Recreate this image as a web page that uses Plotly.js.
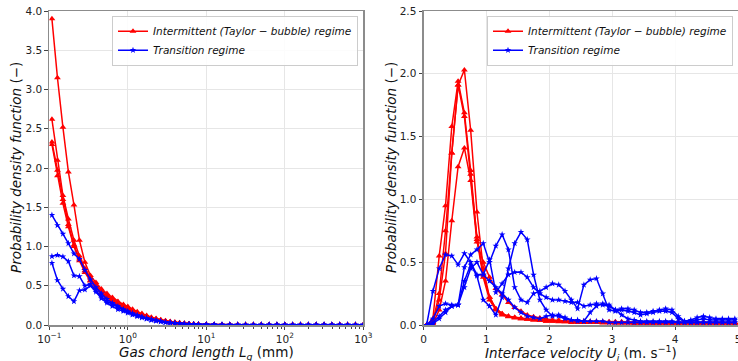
<!DOCTYPE html>
<html>
<head>
<meta charset="utf-8">
<script src="https://cdn.plot.ly/plotly-3.0.1.min.js"></script>
<style>html,body{margin:0;padding:0;background:#fff;}#chart{width:738px;height:361px;}</style>
</head>
<body>
<div id="chart"></div>
<script>
// ---------- Left panel: gas chord length (mm), log x ----------
const chordTickVals = [0.1, 1, 10, 100, 1000];
const chordTickText = ['10<sup>−1</sup>', '10<sup>0</sup>', '10<sup>1</sup>', '10<sup>2</sup>', '10<sup>3</sup>'];

const chordLength = [0.108, 0.127, 0.149, 0.175, 0.206, 0.242, 0.284, 0.334, 0.393, 0.461, 0.542, 0.637, 0.748, 0.879,
  1.0, 1.148, 1.318, 1.514, 1.738, 1.995, 2.291, 2.63, 3.02, 3.467, 3.981, 4.571, 5.248, 6.026, 6.918, 7.943,
  10, 12.59, 15.85, 19.95, 25.12, 31.62, 39.81, 50.12, 63.1, 79.43, 100, 125.9, 158.5, 199.5, 251.2, 316.2, 398.1, 501.2, 631, 794.3, 1000];

const chordInt1 = [3.90, 3.15, 2.52, 1.95, 1.53, 1.08, 0.80, 0.63, 0.54, 0.46, 0.40, 0.35, 0.30, 0.26,
  0.235, 0.20, 0.17, 0.145, 0.12, 0.10, 0.083, 0.068, 0.055, 0.044, 0.035, 0.028, 0.022, 0.017, 0.013, 0.010,
  0.007, 0.005, 0.004, 0.003, 0.003, 0.002, 0.002, 0.002, 0.002, 0.002, 0.002, 0.002, 0.002, 0.002, 0.002, 0.002, 0.002, 0.002, 0.002, 0.002, 0.002];
const chordInt2 = [2.62, 2.10, 1.65, 1.35, 1.08, 0.88, 0.72, 0.60, 0.51, 0.44, 0.38, 0.33, 0.29, 0.25,
  0.22, 0.19, 0.16, 0.135, 0.11, 0.09, 0.075, 0.06, 0.05, 0.04, 0.032, 0.025, 0.019, 0.015, 0.011, 0.008,
  0.006, 0.004, 0.003, 0.003, 0.002, 0.002, 0.002, 0.002, 0.002, 0.002, 0.002, 0.002, 0.002, 0.002, 0.002, 0.002, 0.002, 0.002, 0.002, 0.002, 0.002];
const chordInt3 = [2.33, 1.97, 1.60, 1.28, 1.02, 0.84, 0.69, 0.57, 0.48, 0.41, 0.36, 0.31, 0.27, 0.235,
  0.205, 0.175, 0.15, 0.125, 0.105, 0.085, 0.07, 0.056, 0.045, 0.036, 0.028, 0.022, 0.017, 0.013, 0.010, 0.007,
  0.005, 0.004, 0.003, 0.003, 0.002, 0.002, 0.002, 0.002, 0.002, 0.002, 0.002, 0.002, 0.002, 0.002, 0.002, 0.002, 0.002, 0.002, 0.002, 0.002, 0.002];
const chordInt4 = [2.30, 1.90, 1.55, 1.25, 1.00, 0.82, 0.67, 0.56, 0.47, 0.40, 0.35, 0.30, 0.26, 0.225,
  0.195, 0.17, 0.145, 0.12, 0.10, 0.082, 0.067, 0.054, 0.043, 0.034, 0.027, 0.021, 0.016, 0.012, 0.009, 0.007,
  0.005, 0.004, 0.003, 0.003, 0.002, 0.002, 0.002, 0.002, 0.002, 0.002, 0.002, 0.002, 0.002, 0.002, 0.002, 0.002, 0.002, 0.002, 0.002, 0.002, 0.002];
const chordTr1 = [1.40, 1.27, 1.16, 1.04, 0.91, 0.84, 0.70, 0.58, 0.48, 0.40, 0.33, 0.28, 0.24, 0.20,
  0.175, 0.15, 0.125, 0.105, 0.088, 0.072, 0.058, 0.047, 0.038, 0.030, 0.024, 0.019, 0.015, 0.011, 0.008, 0.006,
  0.005, 0.004, 0.003, 0.003, 0.002, 0.002, 0.002, 0.002, 0.002, 0.002, 0.002, 0.002, 0.002, 0.002, 0.002, 0.002, 0.002, 0.002, 0.002, 0.002, 0.002];
const chordTr2 = [0.875, 0.89, 0.87, 0.81, 0.63, 0.62, 0.50, 0.52, 0.44, 0.36, 0.30, 0.26, 0.22, 0.19,
  0.165, 0.14, 0.12, 0.10, 0.083, 0.068, 0.055, 0.045, 0.036, 0.029, 0.023, 0.018, 0.014, 0.011, 0.008, 0.006,
  0.005, 0.004, 0.003, 0.003, 0.002, 0.002, 0.002, 0.002, 0.002, 0.002, 0.002, 0.002, 0.002, 0.002, 0.002, 0.002, 0.002, 0.002, 0.002, 0.002, 0.002];
const chordTr3 = [0.79, 0.57, 0.46, 0.365, 0.30, 0.44, 0.45, 0.50, 0.42, 0.34, 0.28, 0.24, 0.20, 0.175,
  0.155, 0.13, 0.11, 0.092, 0.077, 0.063, 0.051, 0.041, 0.033, 0.026, 0.021, 0.016, 0.012, 0.009, 0.007, 0.005,
  0.004, 0.003, 0.003, 0.002, 0.002, 0.002, 0.002, 0.002, 0.002, 0.002, 0.002, 0.002, 0.002, 0.002, 0.002, 0.002, 0.002, 0.002, 0.002, 0.002, 0.002];

// ---------- Right panel: interface velocity (m/s) ----------
const velocity = [0.05, 0.15, 0.25, 0.35, 0.45, 0.55, 0.65, 0.75, 0.85, 0.95,
  1.05, 1.15, 1.25, 1.35, 1.45, 1.55, 1.65, 1.75, 1.85, 1.95,
  2.05, 2.15, 2.25, 2.35, 2.45, 2.55, 2.65, 2.75, 2.85, 2.95,
  3.05, 3.15, 3.25, 3.35, 3.45, 3.55, 3.65, 3.75, 3.85, 3.95,
  4.05, 4.15, 4.25, 4.35, 4.45, 4.55, 4.65, 4.75, 4.85, 4.95];

const velInt1 = [0.00, 0.02, 0.20, 0.57, 1.37, 1.91, 2.03, 1.55, 0.90, 0.45, 0.22, 0.13, 0.09, 0.07, 0.06, 0.05, 0.045, 0.04, 0.035, 0.03,
  0.03, 0.025, 0.025, 0.02, 0.02, 0.02, 0.02, 0.02, 0.015, 0.015, 0.015, 0.015, 0.015, 0.01, 0.01, 0.01, 0.01, 0.01, 0.01, 0.01,
  0.01, 0.01, 0.01, 0.01, 0.01, 0.01, 0.01, 0.01, 0.01, 0.01];
const velInt2 = [0.00, 0.05, 0.55, 0.95, 1.58, 1.94, 1.69, 1.23, 0.68, 0.38, 0.20, 0.12, 0.08, 0.065, 0.055, 0.05, 0.045, 0.04, 0.035, 0.03,
  0.03, 0.03, 0.025, 0.025, 0.02, 0.02, 0.02, 0.02, 0.02, 0.02, 0.015, 0.015, 0.015, 0.015, 0.015, 0.015, 0.015, 0.015, 0.015, 0.015,
  0.015, 0.015, 0.015, 0.015, 0.015, 0.015, 0.015, 0.015, 0.015, 0.015];
const velInt3 = [0.00, 0.01, 0.12, 0.35, 0.83, 1.26, 1.41, 1.15, 0.66, 0.50, 0.38, 0.29, 0.24, 0.18, 0.14, 0.11, 0.08, 0.065, 0.055, 0.045,
  0.04, 0.035, 0.03, 0.03, 0.025, 0.025, 0.025, 0.025, 0.02, 0.02, 0.02, 0.02, 0.02, 0.02, 0.02, 0.02, 0.02, 0.02, 0.02, 0.02,
  0.02, 0.02, 0.02, 0.02, 0.02, 0.02, 0.02, 0.02, 0.02, 0.02];
const velInt4 = [0.00, 0.03, 0.25, 0.75, 1.37, 1.91, 1.66, 1.20, 0.70, 0.40, 0.22, 0.13, 0.09, 0.07, 0.06, 0.055, 0.05, 0.045, 0.04, 0.04,
  0.035, 0.035, 0.03, 0.03, 0.03, 0.03, 0.025, 0.025, 0.025, 0.025, 0.025, 0.025, 0.02, 0.02, 0.02, 0.02, 0.02, 0.02, 0.02, 0.02,
  0.02, 0.02, 0.02, 0.02, 0.02, 0.02, 0.02, 0.02, 0.02, 0.02];
const velTr1 = [0.00, 0.27, 0.45, 0.56, 0.55, 0.48, 0.57, 0.50, 0.40, 0.40, 0.52, 0.26, 0.33, 0.40, 0.42, 0.42, 0.38, 0.30, 0.25, 0.22,
  0.20, 0.20, 0.19, 0.18, 0.18, 0.15, 0.16, 0.17, 0.16, 0.15, 0.12, 0.13, 0.13, 0.12, 0.10, 0.10, 0.11, 0.12, 0.13, 0.12,
  0.07, 0.03, 0.04, 0.06, 0.07, 0.06, 0.05, 0.05, 0.05, 0.05];
const velTr2 = [0.00, 0.05, 0.15, 0.17, 0.16, 0.16, 0.46, 0.56, 0.60, 0.65, 0.50, 0.63, 0.72, 0.60, 0.30, 0.20, 0.18, 0.25, 0.27, 0.30,
  0.33, 0.32, 0.27, 0.20, 0.13, 0.32, 0.36, 0.37, 0.25, 0.12, 0.11, 0.12, 0.11, 0.10, 0.08, 0.09, 0.10, 0.11, 0.11, 0.10,
  0.05, 0.03, 0.03, 0.04, 0.05, 0.04, 0.04, 0.04, 0.04, 0.04];
const velTr3 = [0.00, 0.02, 0.07, 0.12, 0.15, 0.16, 0.35, 0.48, 0.39, 0.20, 0.15, 0.08, 0.22, 0.45, 0.65, 0.74, 0.68, 0.40, 0.20, 0.12,
  0.07, 0.08, 0.06, 0.04, 0.03, 0.03, 0.10, 0.15, 0.17, 0.16, 0.12, 0.08, 0.05, 0.04, 0.03, 0.03, 0.03, 0.03, 0.03, 0.03,
  0.02, 0.02, 0.02, 0.02, 0.02, 0.02, 0.02, 0.02, 0.02, 0.02];
const velTr4 = [0.00, 0.01, 0.05, 0.10, 0.15, 0.16, 0.30, 0.45, 0.50, 0.40, 0.35, 0.30, 0.25, 0.20, 0.14, 0.10, 0.07, 0.06, 0.05, 0.07,
  0.08, 0.07, 0.05, 0.04, 0.04, 0.03, 0.03, 0.03, 0.03, 0.02, 0.02, 0.02, 0.02, 0.02, 0.02, 0.02, 0.02, 0.02, 0.02, 0.02,
  0.02, 0.02, 0.02, 0.02, 0.02, 0.02, 0.02, 0.02, 0.02, 0.02];

const nameInt = '<i>Intermittent (Taylor − bubble) regime</i>';
const nameTr = '<i>Transition regime</i>';
const yTitle = '<i>Probability density function</i> (−)';
const xTitleLeft = '<i>Gas chord length L<sub>g</sub></i> (mm)';
const xTitleRight = '<i>Interface velocity U<sub>i</sub></i> (m. s<sup>−1</sup>)';

const RED = '#ff0000', BLUE = '#0000ff';
function tr(x, y, color, sym, name, show, xa, ya, legend) {
  return {
    x: x, y: y, type: 'scatter', mode: 'lines+markers',
    name: name, showlegend: show, legend: legend, legendgroup: legend + name,
    xaxis: xa, yaxis: ya,
    line: {color: color, width: 1.5},
    marker: {color: color, symbol: sym, size: sym === 'triangle-up' ? 6 : 5, line: {width: 0}}
  };
}

const data = [
  tr(chordLength, chordInt1, RED, 'triangle-up', nameInt, true, 'x', 'y', 'legend'),
  tr(chordLength, chordInt2, RED, 'triangle-up', nameInt, false, 'x', 'y', 'legend'),
  tr(chordLength, chordInt3, RED, 'triangle-up', nameInt, false, 'x', 'y', 'legend'),
  tr(chordLength, chordInt4, RED, 'triangle-up', nameInt, false, 'x', 'y', 'legend'),
  tr(chordLength, chordTr1, BLUE, 'star', nameTr, true, 'x', 'y', 'legend'),
  tr(chordLength, chordTr2, BLUE, 'star', nameTr, false, 'x', 'y', 'legend'),
  tr(chordLength, chordTr3, BLUE, 'star', nameTr, false, 'x', 'y', 'legend'),
  tr(velocity, velInt1, RED, 'triangle-up', nameInt, true, 'x2', 'y2', 'legend2'),
  tr(velocity, velInt2, RED, 'triangle-up', nameInt, false, 'x2', 'y2', 'legend2'),
  tr(velocity, velInt3, RED, 'triangle-up', nameInt, false, 'x2', 'y2', 'legend2'),
  tr(velocity, velInt4, RED, 'triangle-up', nameInt, false, 'x2', 'y2', 'legend2'),
  tr(velocity, velTr1, BLUE, 'star', nameTr, true, 'x2', 'y2', 'legend2'),
  tr(velocity, velTr2, BLUE, 'star', nameTr, false, 'x2', 'y2', 'legend2'),
  tr(velocity, velTr3, BLUE, 'star', nameTr, false, 'x2', 'y2', 'legend2'),
  tr(velocity, velTr4, BLUE, 'star', nameTr, false, 'x2', 'y2', 'legend2')
];

const FONT = 'DejaVu Sans, sans-serif';
const W = 738, H = 361;
const yDom = [(H - 325) / H, (H - 11) / H];
const axCommon = {
  showline: true, mirror: true, linecolor: '#8c8c8c', linewidth: 1.5,
  ticks: 'outside', ticklen: 3.5, tickwidth: 1, tickcolor: '#444',
  showgrid: true, gridcolor: '#e6e6e6', gridwidth: 1, zeroline: false,
  ticklabeloverflow: 'allow',
  tickfont: {family: FONT, size: 10.5, color: '#222'}
};
const titleFont = {family: FONT, size: 13.5, color: '#111'};

const legendCommon = {
  bgcolor: 'rgba(255,255,255,0.85)', bordercolor: '#cccccc', borderwidth: 1,
  font: {family: FONT, size: 10.5, color: '#111'}, yanchor: 'top', xanchor: 'right',
  itemwidth: 30, tracegroupgap: 0
};

function title(text, xpx, ypx, angle) {
  return {text: text, xref: 'paper', yref: 'paper', x: xpx / W, y: 1 - ypx / H,
    xanchor: 'center', yanchor: 'middle', showarrow: false, textangle: angle, font: titleFont};
}

const layout = {
  width: W, height: H,
  margin: {l: 0, r: 0, t: 0, b: 0},
  paper_bgcolor: '#fff', plot_bgcolor: '#fff',
  font: {family: FONT},
  xaxis: Object.assign({}, axCommon, {
    domain: [49.3 / W, 363.3 / W], type: 'log', range: [-1, 3],
    tickmode: 'array', tickvals: chordTickVals, ticktext: chordTickText, anchor: 'y',
    minor: {ticks: 'outside', ticklen: 2, tickcolor: '#444', dtick: 'D1', showgrid: false}
  }),
  yaxis: Object.assign({}, axCommon, {
    domain: yDom, range: [0, 4], dtick: 0.5, tickformat: '.1f', anchor: 'x'
  }),
  xaxis2: Object.assign({}, axCommon, {
    domain: [423.5 / W, 1], range: [0, 5], dtick: 1, anchor: 'y2'
  }),
  yaxis2: Object.assign({}, axCommon, {
    domain: yDom, range: [0, 2.5], dtick: 0.5, tickformat: '.1f', anchor: 'x2'
  }),
  annotations: [
    title(xTitleLeft, 206, 352.5, 0),
    title(xTitleRight, 581, 352.5, 0),
    title(yTitle, 16, 168, -90),
    title(yTitle, 391, 168, -90)
  ],
  legend: Object.assign({}, legendCommon, {x: 358 / W, y: (H - 15.7) / H}),
  legend2: Object.assign({}, legendCommon, {x: 733 / W, y: (H - 15.7) / H})
};

Plotly.newPlot('chart', data, layout, {staticPlot: true, displayModeBar: false});
</script>
</body>
</html>
